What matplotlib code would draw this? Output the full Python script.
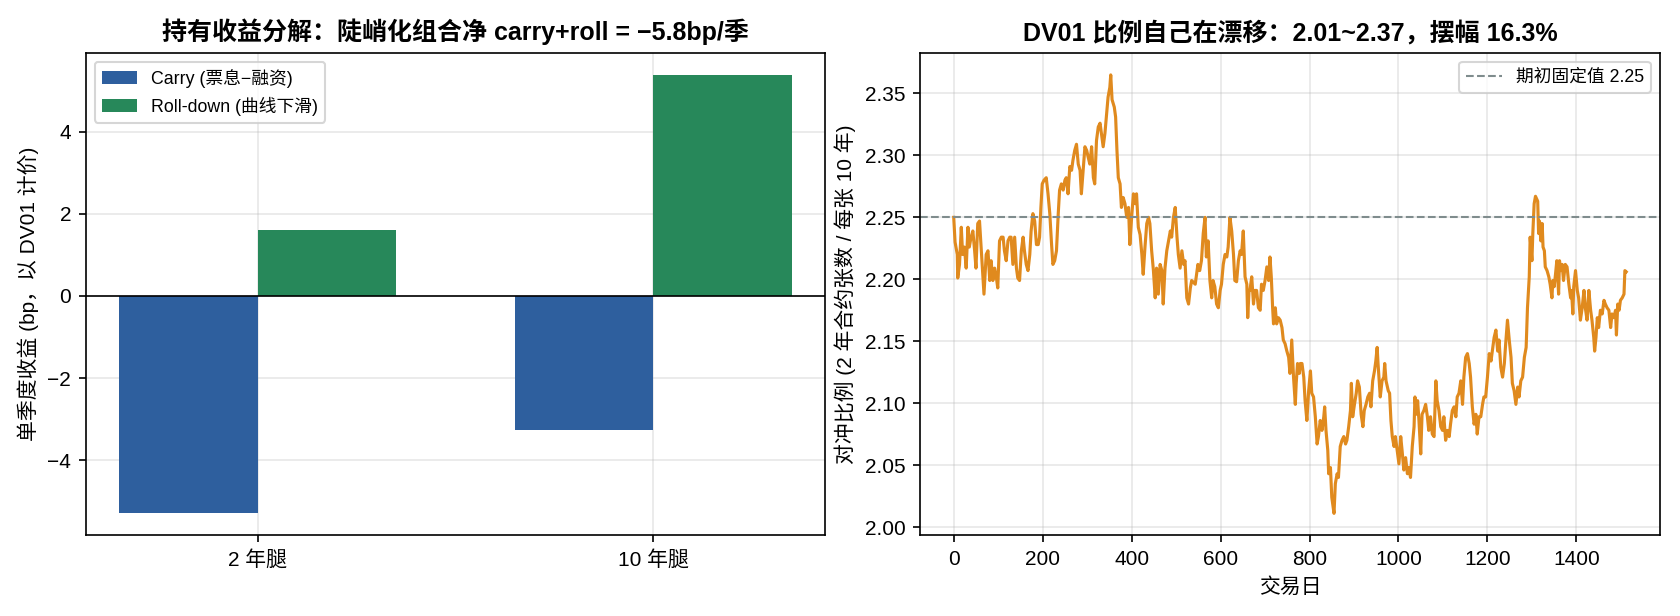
import matplotlib
matplotlib.use("Agg")
import matplotlib.pyplot as plt
import numpy as np

plt.rcParams['font.family'] = ['Liberation Sans', 'Noto Sans CJK SC', 'DejaVu Sans']
plt.rcParams['axes.unicode_minus'] = True

# ---- left panel data ----
legs = ["2 年腿", "10 年腿"]
carry = [-5.30, -3.27]
rolldown = [1.60, 5.39]

# ---- right panel data (traced) ----
days = [0, 3, 8, 9, 13, 17, 20, 24, 28, 32, 35, 39, 43, 47, 50, 54, 58, 62, 68, 73, 77, 81, 84, 88, 92, 96, 99,
        103, 107, 111, 114, 118, 122, 126, 129, 133, 137, 141, 144, 148, 152, 156, 159, 163, 167, 171, 174, 178,
        182, 186, 190, 193, 196, 199, 203, 208, 212, 216, 220, 223, 227, 231, 235, 238, 242, 246, 250, 253, 257,
        261, 265, 268, 272, 276, 280, 284, 287, 291, 295, 299, 302, 306, 310, 314, 317, 321, 325, 329, 332, 336,
        340, 344, 347, 351, 353, 356, 361, 364, 367, 370, 374, 377, 381, 385, 389, 393, 396, 400, 404, 408, 411,
        415, 419, 423, 426, 430, 434, 438, 441, 445, 449, 453, 456, 460, 464, 468, 471, 475, 479, 483, 487, 490,
        494, 498, 502, 505, 509, 513, 517, 520, 524, 528, 532, 535, 543, 549, 553, 557, 561, 565, 568, 572, 576,
        580, 583, 587, 591, 595, 599, 602, 606, 610, 614, 617, 621, 625, 629, 632, 636, 640, 644, 647, 651, 655,
        659, 661, 664, 666, 670, 674, 677, 681, 685, 689, 692, 696, 700, 704, 708, 711, 714, 717, 719, 723, 726,
        730, 734, 738, 741, 745, 749, 753, 756, 760, 764, 768, 770, 773, 777, 779, 783, 787, 790, 794, 798, 802,
        805, 809, 813, 817, 820, 824, 828, 832, 834, 837, 841, 843, 847, 850, 855, 858, 862, 865, 869, 873, 877,
        881, 884, 888, 892, 894, 897, 901, 905, 908, 912, 916, 920, 923, 927, 931, 935, 938, 942, 946, 949, 952,
        954, 957, 959, 963, 967, 969, 972, 977, 980, 983, 986, 990, 993, 997, 1001, 1005, 1008, 1012, 1016, 1020,
        1023, 1027, 1031, 1035, 1037, 1040, 1043, 1046, 1050, 1053, 1057, 1061, 1065, 1068, 1072, 1076, 1080,
        1084, 1087, 1091, 1095, 1099, 1102, 1106, 1110, 1114, 1117, 1121, 1125, 1129, 1132, 1136, 1140, 1144,
        1147, 1151, 1155, 1159, 1162, 1166, 1170, 1174, 1177, 1181, 1185, 1189, 1192, 1196, 1200, 1204, 1208,
        1211, 1215, 1219, 1223, 1226, 1230, 1234, 1238, 1241, 1245, 1249, 1253, 1256, 1260, 1264, 1268, 1271,
        1275, 1279, 1283, 1287, 1290, 1294, 1296, 1300, 1302, 1305, 1308, 1313, 1315, 1317, 1320, 1323, 1325,
        1328, 1330, 1334, 1338, 1341, 1345, 1347, 1350, 1353, 1356, 1360, 1362, 1365, 1368, 1371, 1375, 1379,
        1383, 1387, 1389, 1392, 1394, 1398, 1402, 1405, 1409, 1413, 1417, 1420, 1424, 1428, 1432, 1435, 1439,
        1441, 1444, 1447, 1450, 1454, 1458, 1462, 1465, 1469, 1473, 1477, 1480, 1484, 1488, 1490, 1493, 1496,
        1499, 1503, 1507, 1509, 1512]
ratio = [2.250, 2.230, 2.220, 2.201, 2.212, 2.242, 2.220, 2.226, 2.209, 2.242, 2.226, 2.234, 2.239, 2.223, 2.209,
         2.245, 2.247, 2.223, 2.188, 2.220, 2.223, 2.199, 2.215, 2.199, 2.209, 2.201, 2.193, 2.231, 2.234, 2.234,
         2.223, 2.215, 2.231, 2.234, 2.234, 2.212, 2.234, 2.209, 2.201, 2.199, 2.223, 2.234, 2.223, 2.212, 2.207,
         2.220, 2.239, 2.253, 2.247, 2.228, 2.228, 2.234, 2.258, 2.277, 2.280, 2.282, 2.269, 2.253, 2.228, 2.212,
         2.215, 2.223, 2.253, 2.272, 2.277, 2.272, 2.280, 2.282, 2.269, 2.291, 2.288, 2.296, 2.304, 2.309, 2.293,
         2.288, 2.269, 2.288, 2.307, 2.304, 2.299, 2.293, 2.307, 2.282, 2.277, 2.312, 2.323, 2.326, 2.318, 2.307,
         2.318, 2.334, 2.347, 2.355, 2.365, 2.345, 2.339, 2.331, 2.304, 2.282, 2.277, 2.258, 2.266, 2.261, 2.250,
         2.258, 2.228, 2.250, 2.269, 2.261, 2.269, 2.242, 2.236, 2.220, 2.204, 2.226, 2.245, 2.250, 2.245, 2.223,
         2.207, 2.185, 2.209, 2.188, 2.212, 2.207, 2.180, 2.209, 2.223, 2.231, 2.239, 2.234, 2.250, 2.258, 2.234,
         2.220, 2.209, 2.223, 2.212, 2.215, 2.185, 2.180, 2.193, 2.199, 2.196, 2.212, 2.207, 2.215, 2.237, 2.250,
         2.218, 2.231, 2.199, 2.185, 2.199, 2.194, 2.180, 2.177, 2.191, 2.196, 2.212, 2.220, 2.218, 2.226, 2.250,
         2.239, 2.220, 2.199, 2.198, 2.215, 2.223, 2.220, 2.239, 2.202, 2.196, 2.169, 2.191, 2.191, 2.202, 2.180,
         2.191, 2.191, 2.177, 2.175, 2.196, 2.191, 2.199, 2.210, 2.199, 2.218, 2.202, 2.177, 2.164, 2.177, 2.164,
         2.169, 2.167, 2.161, 2.151, 2.148, 2.142, 2.137, 2.124, 2.151, 2.121, 2.099, 2.116, 2.132, 2.124, 2.132,
         2.132, 2.121, 2.102, 2.086, 2.110, 2.126, 2.108, 2.105, 2.089, 2.067, 2.073, 2.086, 2.078, 2.089, 2.097,
         2.078, 2.062, 2.043, 2.048, 2.024, 2.011, 2.035, 2.043, 2.040, 2.065, 2.070, 2.073, 2.067, 2.070, 2.081,
         2.094, 2.116, 2.089, 2.099, 2.108, 2.118, 2.113, 2.091, 2.081, 2.094, 2.099, 2.105, 2.108, 2.097, 2.118,
         2.126, 2.134, 2.145, 2.132, 2.116, 2.105, 2.118, 2.121, 2.132, 2.118, 2.110, 2.108, 2.086, 2.073, 2.065,
         2.073, 2.062, 2.051, 2.073, 2.062, 2.046, 2.056, 2.043, 2.048, 2.040, 2.065, 2.081, 2.105, 2.091, 2.102,
         2.086, 2.059, 2.091, 2.094, 2.099, 2.089, 2.078, 2.089, 2.075, 2.073, 2.118, 2.102, 2.094, 2.081, 2.078,
         2.089, 2.070, 2.078, 2.073, 2.083, 2.094, 2.097, 2.089, 2.105, 2.108, 2.118, 2.099, 2.121, 2.137, 2.140,
         2.132, 2.121, 2.097, 2.083, 2.091, 2.075, 2.089, 2.089, 2.099, 2.105, 2.105, 2.121, 2.140, 2.134, 2.142,
         2.153, 2.159, 2.142, 2.151, 2.129, 2.121, 2.132, 2.148, 2.167, 2.151, 2.137, 2.116, 2.110, 2.099, 2.113,
         2.105, 2.118, 2.121, 2.137, 2.145, 2.177, 2.202, 2.234, 2.215, 2.237, 2.261, 2.267, 2.263, 2.237, 2.247,
         2.231, 2.245, 2.226, 2.223, 2.210, 2.207, 2.202, 2.196, 2.185, 2.199, 2.194, 2.204, 2.215, 2.188, 2.215,
         2.207, 2.212, 2.199, 2.212, 2.210, 2.196, 2.185, 2.191, 2.172, 2.194, 2.207, 2.191, 2.185, 2.167, 2.177,
         2.191, 2.177, 2.167, 2.191, 2.175, 2.167, 2.153, 2.142, 2.153, 2.169, 2.161, 2.175, 2.172, 2.183, 2.180,
         2.177, 2.175, 2.161, 2.172, 2.169, 2.175, 2.155, 2.180, 2.175, 2.183, 2.185, 2.188, 2.207, 2.206]
fixed_ratio = 2.25

fig, (ax1, ax2) = plt.subplots(1, 2, figsize=(11.2, 616 / 150), dpi=150)
fig.subplots_adjust(left=0.051, right=0.988, bottom=0.131, top=0.914, wspace=0.128)

# left
x = np.arange(len(legs))
w = 0.35
ax1.bar(x - w / 2, carry, w, color='#2E5F9E', label='Carry (票息−融资)', zorder=2)
ax1.bar(x + w / 2, rolldown, w, color='#27885A', label='Roll-down (曲线下滑)', zorder=2)
ax1.axhline(0, color='black', lw=0.8, zorder=3)
ax1.set_xticks(x)
ax1.set_xticklabels(legs)
ax1.set_ylabel('单季度收益 (bp，以 DV01 计价)')
ax1.set_title('持有收益分解：陡峭化组合净 carry+roll = −5.8bp/季', fontweight='bold')
ax1.grid(True, alpha=0.3, zorder=0)
ax1.set_axisbelow(True)
ax1.legend(loc='upper left', fontsize=8.5)

# right
ax2.plot(days, ratio, color='#E08A1E', lw=1.5)
ax2.axhline(fixed_ratio, color='#7F8C8D', ls='--', lw=1.0, label='期初固定值 2.25')
ax2.set_xlabel('交易日')
ax2.set_ylabel('对冲比例 (2 年合约张数 / 每张 10 年)')
ax2.set_title('DV01 比例自己在漂移：2.01~2.37，摆幅 16.3%', fontweight='bold')
ax2.grid(True, alpha=0.3)
ax2.legend(loc='upper right', fontsize=8.5)

fig.savefig('out.png', dpi=150)
